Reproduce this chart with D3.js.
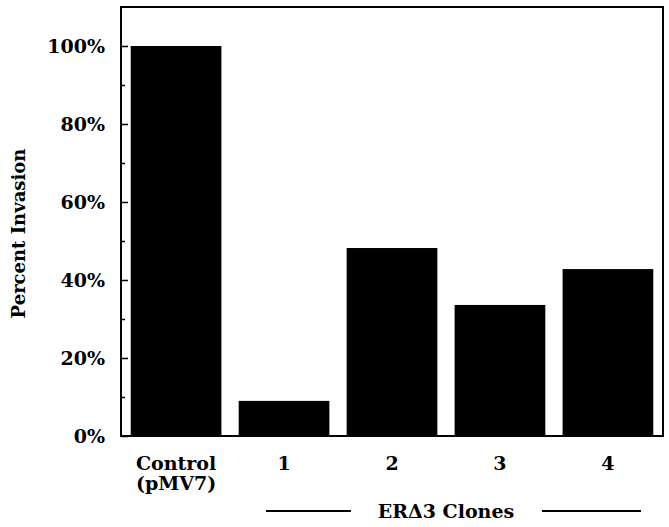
<!DOCTYPE html>
<html>
<head>
<meta charset="utf-8">
<script src="https://cdn.jsdelivr.net/npm/d3@7"></script>
<style>
  body { margin: 0; background: #fff; }
  text { font-family: "DejaVu Serif", "Liberation Serif", serif; font-weight: bold; fill: #000; }
</style>
</head>
<body>
<div id="chart"></div>
<script>
// Chart data
const categories = ['Control', '1', '2', '3', '4'];
const subLabels = ['(pMV7)', '', '', '', ''];
const invasion = [100, 9, 48.2, 33.6, 42.8];
const majorTicks = [0, 20, 40, 60, 80, 100];
const minorTicks = [10, 30, 50, 70, 90];
const groupLabel = 'ERΔ3 Clones';
const yTitle = 'Percent Invasion';

function renderBarChart(containerId) {
    const width = 669;
    const height = 527;
    const margin = { top: 7, right: 6, bottom: 91, left: 121 };

    const svg = d3.select(`#${containerId}`)
        .append('svg')
        .attr('width', width)
        .attr('height', height);

    const x = d3.scaleBand()
        .domain(categories)
        .range([margin.left, width - margin.right])
        .paddingInner(0.16)
        .paddingOuter(0.09);

    const y = d3.scaleLinear()
        .domain([0, 110])
        .range([height - margin.bottom, margin.top]);

    // Bars
    svg.selectAll('.bar')
        .data(invasion)
        .enter()
        .append('rect')
        .attr('class', 'bar')
        .attr('x', (d, i) => x(categories[i]))
        .attr('y', d => y(d))
        .attr('width', x.bandwidth())
        .attr('height', d => y(0) - y(d))
        .attr('fill', '#000');

    // Minor ticks (inside)
    svg.append('g')
        .attr('transform', `translate(${margin.left},0)`)
        .call(d3.axisLeft(y).tickValues(minorTicks).tickSize(-4).tickFormat(''))
        .call(g => g.select('.domain').remove())
        .call(g => g.selectAll('line').attr('stroke-width', 1.5));

    // Major ticks + labels
    svg.append('g')
        .attr('transform', `translate(${margin.left},0)`)
        .call(d3.axisLeft(y).tickValues(majorTicks).tickSize(-7).tickPadding(16).tickFormat(d => d + '%'))
        .call(g => g.select('.domain').remove())
        .call(g => g.selectAll('line').attr('stroke-width', 1.5))
        .call(g => g.selectAll('text')
            .attr('dy', '0.36em')
            .style('font-size', '19px')
            .style('font-family', '"DejaVu Serif", serif')
            .style('font-weight', 'bold'));

    // Frame
    svg.append('rect')
        .attr('x', margin.left)
        .attr('y', margin.top)
        .attr('width', width - margin.right - margin.left)
        .attr('height', y(0) - margin.top)
        .attr('fill', 'none')
        .attr('stroke', '#000')
        .attr('stroke-width', 2);

    // Category labels
    const labels = svg.append('g');
    categories.forEach((c, i) => {
        const cx = x(c) + x.bandwidth() / 2;
        labels.append('text')
            .attr('x', cx)
            .attr('y', 470)
            .attr('text-anchor', 'middle')
            .style('font-size', '19px')
            .text(c);
        if (subLabels[i]) {
            labels.append('text')
                .attr('x', cx)
                .attr('y', 490)
                .attr('text-anchor', 'middle')
                .style('font-size', '19px')
                .text(subLabels[i]);
        }
    });

    // Clone group label with flanking lines
    const first = x(categories[1]) + x.bandwidth() / 2;
    const last = x(categories[4]) + x.bandwidth() / 2;
    const mid = (first + last) / 2;
    svg.append('text')
        .attr('x', mid)
        .attr('y', 518)
        .attr('text-anchor', 'middle')
        .style('font-size', '19px')
        .text(groupLabel);
    svg.append('line')
        .attr('x1', first - 18).attr('x2', mid - 95)
        .attr('y1', 511).attr('y2', 511)
        .attr('stroke', '#000').attr('stroke-width', 2);
    svg.append('line')
        .attr('x1', mid + 96).attr('x2', last + 33)
        .attr('y1', 511).attr('y2', 511)
        .attr('stroke', '#000').attr('stroke-width', 2);

    // Y axis title
    svg.append('text')
        .attr('transform', `translate(25, ${(margin.top + y(0)) / 2 + 12}) rotate(-90)`)
        .attr('text-anchor', 'middle')
        .style('font-size', '18px')
        .text(yTitle);
}

renderBarChart('chart');
</script>
</body>
</html>
